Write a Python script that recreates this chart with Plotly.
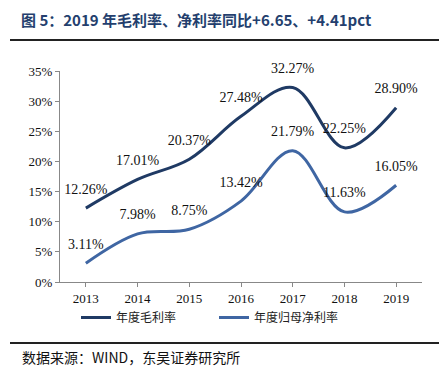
import plotly.graph_objects as go

years = ["2013", "2014", "2015", "2016", "2017", "2018", "2019"]
gross_margin = [12.26, 17.01, 20.37, 27.48, 32.27, 22.25, 28.90]
net_margin = [3.11, 7.98, 8.75, 13.42, 21.79, 11.63, 16.05]
series_names = ["年度毛利率", "年度归母净利率"]
y_ticks = [0, 5, 10, 15, 20, 25, 30, 35]
title_text = "图 5：2019 年毛利率、净利率同比+6.65、+4.41pct"
source_text = "数据来源：WIND，东吴证券研究所"

c1 = "#1f3a64"
c2 = "#3f66a3"
serif = "Liberation Serif"
cjk = "Noto Sans CJK SC"

# page body has an 8px margin; work in page pixels and subtract it
OFF = 8
W, H = 447 - OFF, 384 - OFF
L, R, T, B = 60 - OFF, 25, 71 - OFF, H - (282 - OFF)
plot_w = W - L - R
plot_h = H - T - B

def px_x(px):
    return (px - OFF - L) / plot_w

def px_y(py):
    return (H - B - (py - OFF)) / plot_h

fig = go.Figure()
for name, vals, col in [(series_names[0], gross_margin, c1), (series_names[1], net_margin, c2)]:
    fig.add_trace(go.Scatter(x=years, y=vals, name=name, mode="lines",
                             line=dict(color=col, width=3, shape="spline", smoothing=1.0)))
for vals in (gross_margin, net_margin):
    fig.add_trace(go.Scatter(x=years, y=vals, mode="markers+text", showlegend=False,
                             marker=dict(size=16, opacity=0), hoverinfo="skip", cliponaxis=False,
                             text=[f"{v:.2f}%" for v in vals], textposition="top center",
                             textfont=dict(family=serif, size=14, color="#111")))

annotations = [
    dict(xref="paper", yref="paper", x=px_x(20), y=px_y(OFF), text="<b>" + title_text + "</b>",
         showarrow=False, xanchor="left", yanchor="top", borderpad=0,
         font=dict(family=cjk, size=15, color="#243f6e")),
    dict(xref="paper", yref="paper", x=px_x(20), y=px_y(357), text=source_text,
         showarrow=False, xanchor="left", yanchor="middle",
         font=dict(family=cjk, size=14, color="#111")),
]

fig.update_layout(
    width=W, height=H,
    margin=dict(l=L, r=R, t=T, b=B),
    paper_bgcolor="white", plot_bgcolor="white",
    showlegend=True,
    legend=dict(orientation="h", x=px_x(76), y=px_y(303), xanchor="left", yanchor="top",
                font=dict(family=cjk, size=12, color="#222"),
                entrywidth=93, entrywidthmode="pixels"),
    xaxis=dict(type="category", range=[-0.5, 6.5], showline=True, linecolor="#888", linewidth=1,
               ticks="outside", ticklen=4, tickcolor="#888", showgrid=False,
               tickfont=dict(family=serif, size=13, color="#111")),
    yaxis=dict(range=[0, 35], tickvals=y_ticks, ticktext=[f"{t}%" for t in y_ticks],
               showline=True, linecolor="#888", linewidth=1, ticks="outside", ticklen=4,
               tickcolor="#888", showgrid=False, zeroline=False,
               tickfont=dict(family=serif, size=13, color="#111")),
    annotations=annotations,
)

fig.add_shape(type="line", xref="paper", yref="paper", x0=px_x(10), x1=px_x(441), y0=px_y(40), y1=px_y(40),
              line=dict(color="#222", width=2))
fig.add_shape(type="line", xref="paper", yref="paper", x0=px_x(10), x1=px_x(441), y0=px_y(343), y1=px_y(343),
              line=dict(color="#222", width=2))

fig.write_html("out.html")
